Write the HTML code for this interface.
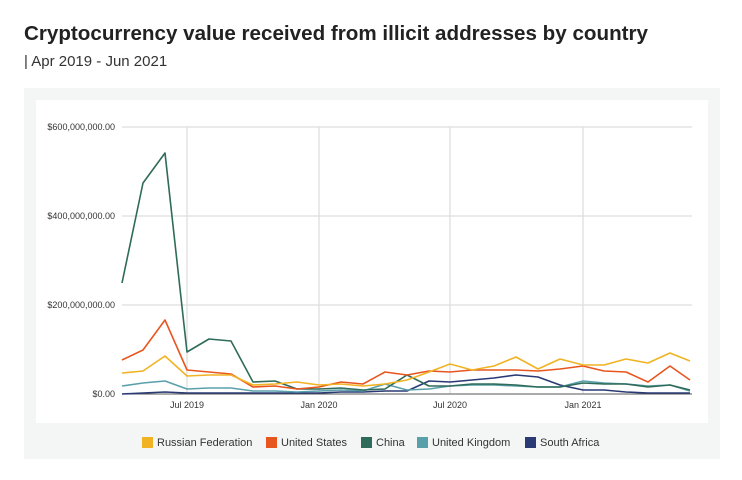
<!DOCTYPE html>
<html><head><meta charset="utf-8"><style>
body{margin:0;background:#fff;width:742px;height:480px;overflow:hidden}
svg{display:block}
</style></head><body>
<svg width="742" height="480" xmlns="http://www.w3.org/2000/svg" font-family="Liberation Sans, sans-serif">
<rect width="742" height="480" fill="#fff"/>
<text x="24" y="40" font-size="20.6" font-weight="bold" fill="#222" textLength="624" lengthAdjust="spacingAndGlyphs">Cryptocurrency value received from illicit addresses by country</text>
<text x="24" y="66" font-size="15" fill="#333">| Apr 2019 - Jun 2021</text>
<rect x="24" y="88" width="696" height="371" fill="#f4f5f5"/>
<rect x="36" y="100" width="672" height="323" fill="#fff"/>
<g stroke="#ddd" stroke-width="1.2">
<line x1="122" y1="127" x2="692" y2="127"/>
<line x1="122" y1="216" x2="692" y2="216"/>
<line x1="122" y1="305" x2="692" y2="305"/>
<line x1="187" y1="127" x2="187" y2="394"/>
<line x1="319" y1="127" x2="319" y2="394"/>
<line x1="450" y1="127" x2="450" y2="394"/>
<line x1="583" y1="127" x2="583" y2="394"/>
</g>
<line x1="122" y1="394" x2="692" y2="394" stroke="#555" stroke-width="1"/>
<g font-size="9" fill="#333" text-anchor="end">
<text x="115" y="130">$600,000,000.00</text>
<text x="115" y="219">$400,000,000.00</text>
<text x="115" y="308">$200,000,000.00</text>
<text x="115" y="397">$0.00</text>
</g>
<g font-size="9" fill="#333" text-anchor="middle">
<text x="187" y="408">Jul 2019</text>
<text x="319" y="408">Jan 2020</text>
<text x="450" y="408">Jul 2020</text>
<text x="583" y="408">Jan 2021</text>
</g>
<g fill="none" stroke-width="1.6" stroke-linejoin="round">
<polyline stroke="#2a3a75" points="122,394 143,393 165,392 187,393 209,393 231,393 253,393 275,393 297,393 319,393 341,392 363,392 385,391 407,391 429,381 450,382 472,380 494,378 516,375 538,377 560,385 583,390 604,390 626,392 648,393 670,393 690,393"/>
<polyline stroke="#5aa0ab" points="122,386 143,383 165,381 187,389 209,388 231,388 253,391 275,391 297,392 319,391 341,390 363,391 385,384 407,390 429,389 450,386 472,385 494,385 516,386 538,387 560,387 583,381 604,383 626,384 648,386 670,385 690,391"/>
<polyline stroke="#2f6b5a" points="122,283 143,183 165,153 187,352 209,339 231,341 253,382 275,381 297,389 319,389 341,388 363,390 385,389 407,375 429,386 450,386 472,384 494,384 516,385 538,387 560,387 583,383 604,384 626,384 648,387 670,385 690,390"/>
<polyline stroke="#e8561f" points="122,360 143,350 165,320 187,370 209,372 231,374 253,387 275,386 297,389 319,387 341,382 363,384 385,372 407,375 429,371 450,372 472,370 494,370 516,370 538,371 560,369 583,366 604,371 626,372 648,382 670,366 690,380"/>
<polyline stroke="#f0b323" points="122,373 143,371 165,356 187,376 209,375 231,375 253,385 275,384 297,382 319,385 341,384 363,386 385,384 407,380 429,372 450,364 472,370 494,366 516,357 538,369 560,359 583,365 604,365 626,359 648,363 670,353 690,361"/>
</g>
<g font-size="11" fill="#333">
<rect x="142" y="437" width="11" height="11" fill="#f0b323"/><text x="157" y="446">Russian Federation</text>
<rect x="266" y="437" width="11" height="11" fill="#e8561f"/><text x="281" y="446">United States</text>
<rect x="361" y="437" width="11" height="11" fill="#2f6b5a"/><text x="376" y="446">China</text>
<rect x="417" y="437" width="11" height="11" fill="#5aa0ab"/><text x="432" y="446">United Kingdom</text>
<rect x="525" y="437" width="11" height="11" fill="#2a3a75"/><text x="540" y="446">South Africa</text>
</g>
</svg>
</body></html>
